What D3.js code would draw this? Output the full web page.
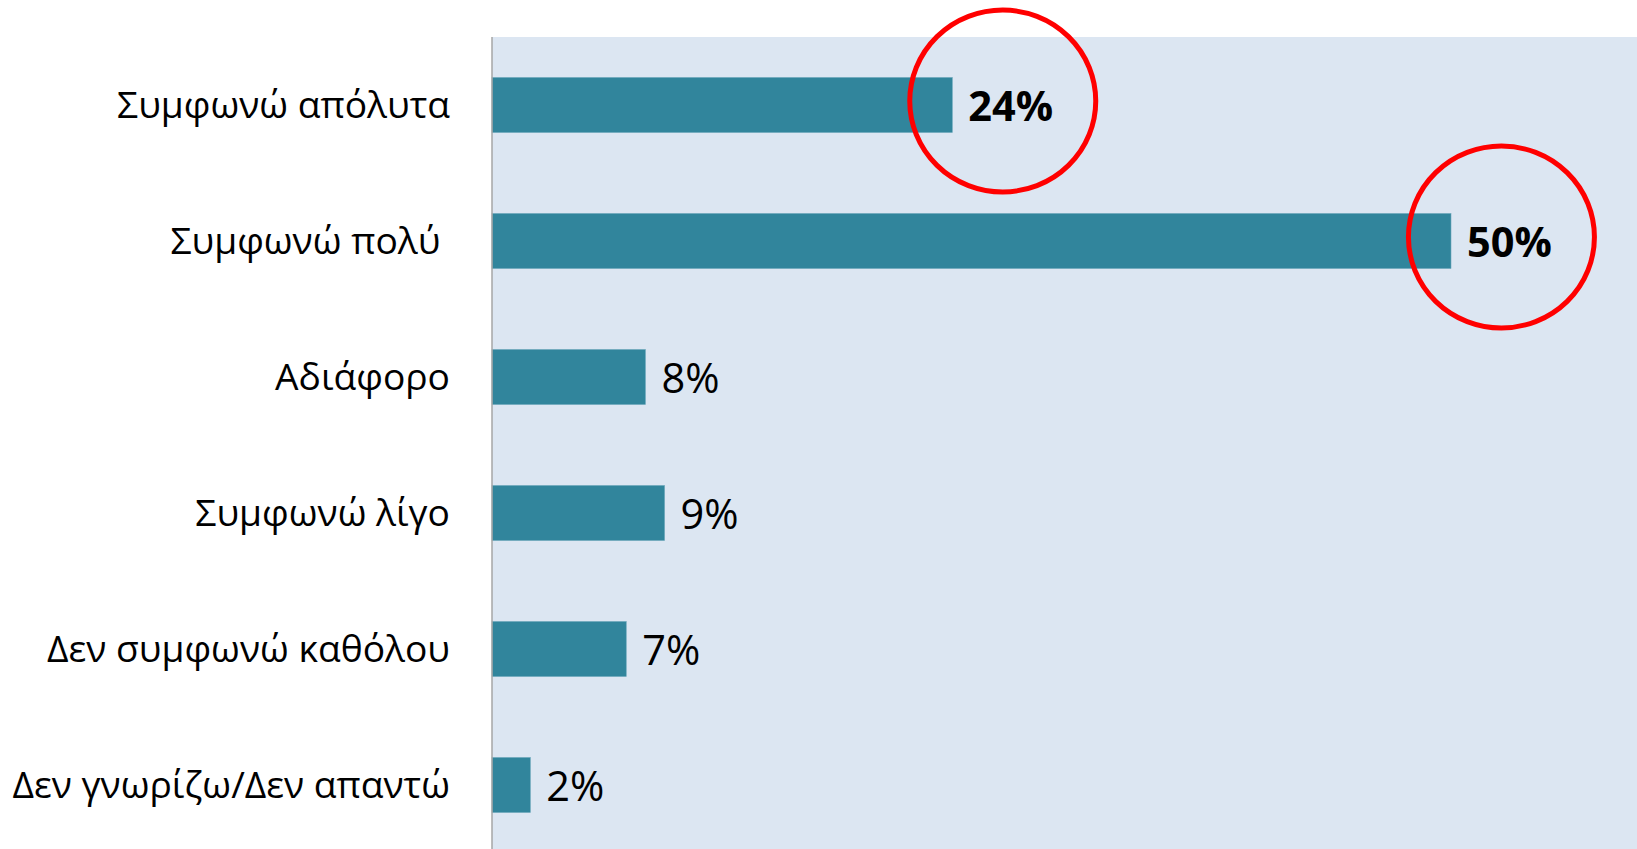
<!DOCTYPE html>
<html>
<head>
<meta charset="utf-8">
<script src="https://cdn.jsdelivr.net/npm/d3@7/dist/d3.min.js"></script>
<style>
  html, body { margin: 0; padding: 0; background: #ffffff; }
  svg { display: block; }
  text { font-family: "Open Sans", "Noto Sans", sans-serif; white-space: pre; }
</style>
</head>
<body>
<svg id="chart" width="1637" height="849"></svg>
<script>
// ---- data ----
const categories = [
  "Συμφωνώ απόλυτα",
  "Συμφωνώ πολύ ",
  "Αδιάφορο",
  "Συμφωνώ λίγο",
  "Δεν συμφωνώ καθόλου",
  "Δεν γνωρίζω/Δεν απαντώ"
];
const values = [24, 50, 8, 9, 7, 2];
const valueLabels = ["24%", "50%", "8%", "9%", "7%", "2%"];
const highlighted = ["Συμφωνώ απόλυτα", "Συμφωνώ πολύ "];

// ---- layout ----
const W = 1637, H = 849;
const plotLeft = 492, plotTop = 37, plotBottom = 853;
const svg = d3.select("#chart");

const x = d3.scaleLinear().domain([0, 50]).range([plotLeft, 1451]);
const y = d3.scaleBand().domain(categories).range([plotTop, plotBottom])
  .paddingInner(0.595).paddingOuter(0.2975);

// plot background
svg.append("rect")
  .attr("x", plotLeft).attr("y", plotTop)
  .attr("width", W - plotLeft).attr("height", H - plotTop)
  .attr("fill", "#dce6f2");

// bars
svg.selectAll("rect.bar").data(categories).join("rect")
  .attr("class", "bar")
  .attr("x", x(0))
  .attr("y", d => y(d))
  .attr("width", (d, i) => x(values[i]) - x(0))
  .attr("height", y.bandwidth())
  .attr("fill", "#31859c")
  .attr("stroke", "#6fa9bd")
  .attr("stroke-width", 0.6);

// axis line
const yAxis = d3.axisLeft(y).tickSize(0).tickPadding(42);
const gAxis = svg.append("g").attr("transform", `translate(${plotLeft},0)`).call(yAxis);
gAxis.select(".domain").attr("stroke", "#a6a6a6").attr("stroke-width", 1.5)
  .attr("d", `M0,${plotTop}V${H}`);
gAxis.selectAll(".tick text")
  .attr("fill", "#000")
  .style("font-size", "37.2px")
  .style("font-family", "\"Open Sans\", \"Noto Sans\", sans-serif")
  .attr("dy", "0.36em");

// value labels
const labels = svg.selectAll("text.val").data(categories).join("text")
  .attr("class", "val")
  .attr("x", (d, i) => x(values[i]) + 16)
  .attr("y", d => y(d) + y.bandwidth() / 2)
  .attr("dy", "0.38em")
  .attr("font-size", 41.5)
  .attr("font-weight", d => highlighted.includes(d) ? 700 : 400)
  .attr("fill", "#000")
  .text((d, i) => valueLabels[i]);

// highlight circles
labels.each(function(d) {
  if (!highlighted.includes(d)) return;
  const b = this.getBBox();
  svg.append("ellipse")
    .attr("cx", b.x + b.width / 2 - 8)
    .attr("cy", y(d) + y.bandwidth() / 2 - 4)
    .attr("rx", 93).attr("ry", 91)
    .attr("fill", "none")
    .attr("stroke", "#ff0000")
    .attr("stroke-width", 5);
});
</script>
</body>
</html>
